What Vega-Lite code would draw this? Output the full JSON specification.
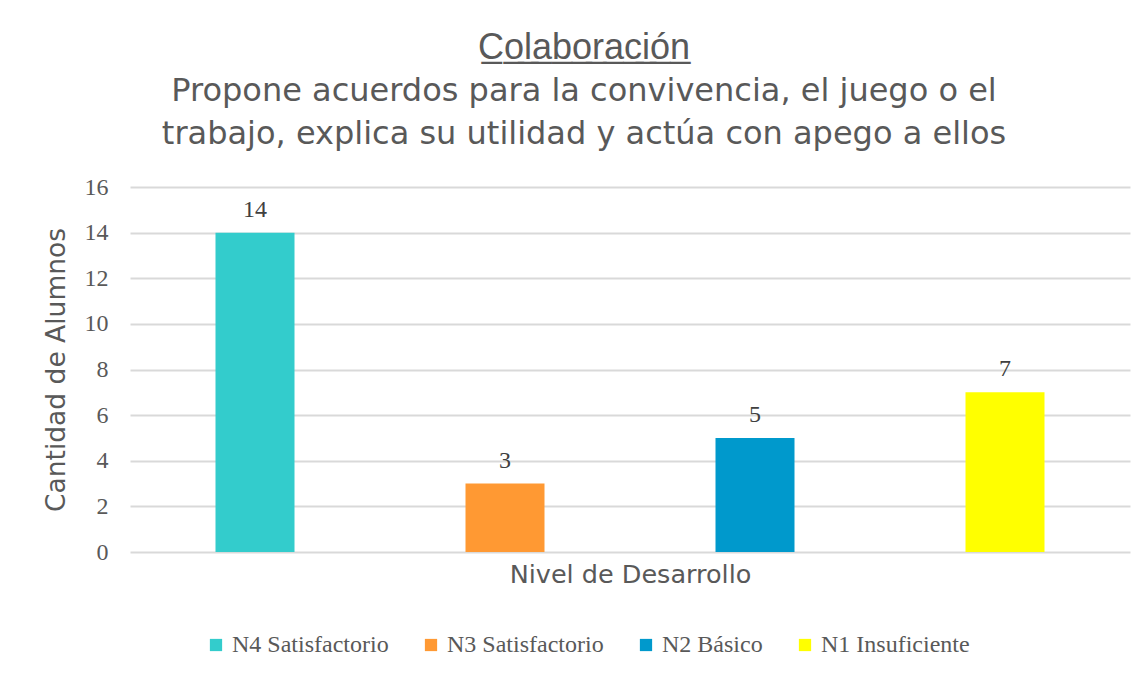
{
  "$schema": "https://vega.github.io/schema/vega-lite/v6.json",
  "width": 1000,
  "height": 365,
  "autosize": "none",
  "padding": {"left": 130, "top": 187, "right": 16, "bottom": 123},
  "background": "white",
  "title": {
    "text": "C̲o̲l̲a̲b̲o̲r̲a̲c̲i̲ó̲n̲",
    "subtitle": ["Propone acuerdos para la convivencia, el juego o el", "trabajo, explica su utilidad y actúa con apego a ellos"],
    "anchor": "middle",
    "dx": -46,
    "offset": 24,
    "font": "Liberation Sans",
    "fontSize": 36,
    "fontWeight": "normal",
    "color": "#595959",
    "subtitleFont": "DejaVu Sans",
    "subtitleFontSize": 32,
    "subtitleColor": "#595959",
    "subtitleLineHeight": 43,
    "subtitlePadding": 9
  },
  "data": {
    "values": [
      {"nivel": "N4 Satisfactorio", "alumnos": 14},
      {"nivel": "N3 Satisfactorio", "alumnos": 3},
      {"nivel": "N2 Básico", "alumnos": 5},
      {"nivel": "N1 Insuficiente", "alumnos": 7}
    ]
  },
  "encoding": {
    "x": {
      "field": "nivel",
      "type": "nominal",
      "sort": null,
      "scale": {"paddingInner": 0.684, "paddingOuter": 0.342},
      "axis": {
        "title": "Nivel de Desarrollo",
        "labels": false,
        "ticks": false,
        "domain": false,
        "titleFont": "DejaVu Sans",
        "titleFontSize": 25.5,
        "titleFontWeight": "normal",
        "titleColor": "#595959",
        "titlePadding": 10
      }
    },
    "y": {
      "field": "alumnos",
      "type": "quantitative",
      "scale": {"domain": [0, 16]},
      "axis": {
        "title": "Cantidad de Alumnos",
        "values": [0, 2, 4, 6, 8, 10, 12, 14, 16],
        "domain": false,
        "ticks": false,
        "labelFont": "Liberation Serif",
        "labelFontSize": 24,
        "labelColor": "#595959",
        "labelPadding": 22,
        "titleFont": "DejaVu Sans",
        "titleFontSize": 26.5,
        "titleFontWeight": "normal",
        "titleColor": "#595959",
        "titlePadding": 14,
        "gridColor": "#d9d9d9",
        "gridWidth": 2
      }
    }
  },
  "layer": [
    {
      "mark": {"type": "bar"},
      "encoding": {
        "color": {
          "field": "nivel",
          "type": "nominal",
          "sort": null,
          "scale": {
            "domain": ["N4 Satisfactorio", "N3 Satisfactorio", "N2 Básico", "N1 Insuficiente"],
            "range": ["#33CCCC", "#FF9933", "#0099CC", "#FFFF00"]
          },
          "legend": {
            "title": null,
            "orient": "none",
            "direction": "horizontal",
            "legendX": 74,
            "legendY": 446,
            "symbolType": "square",
            "symbolSize": 150,
            "symbolStrokeWidth": 0,
            "labelFont": "Liberation Serif",
            "labelFontSize": 24,
            "labelColor": "#595959",
            "columnPadding": 30,
            "labelOffset": 4
          }
        }
      }
    },
    {
      "mark": {"type": "text", "baseline": "bottom", "dy": -11, "font": "Liberation Serif", "fontSize": 24, "color": "#404040"},
      "encoding": {
        "text": {"field": "alumnos", "type": "quantitative"}
      }
    }
  ],
  "config": {
    "view": {"stroke": null}
  }
}
